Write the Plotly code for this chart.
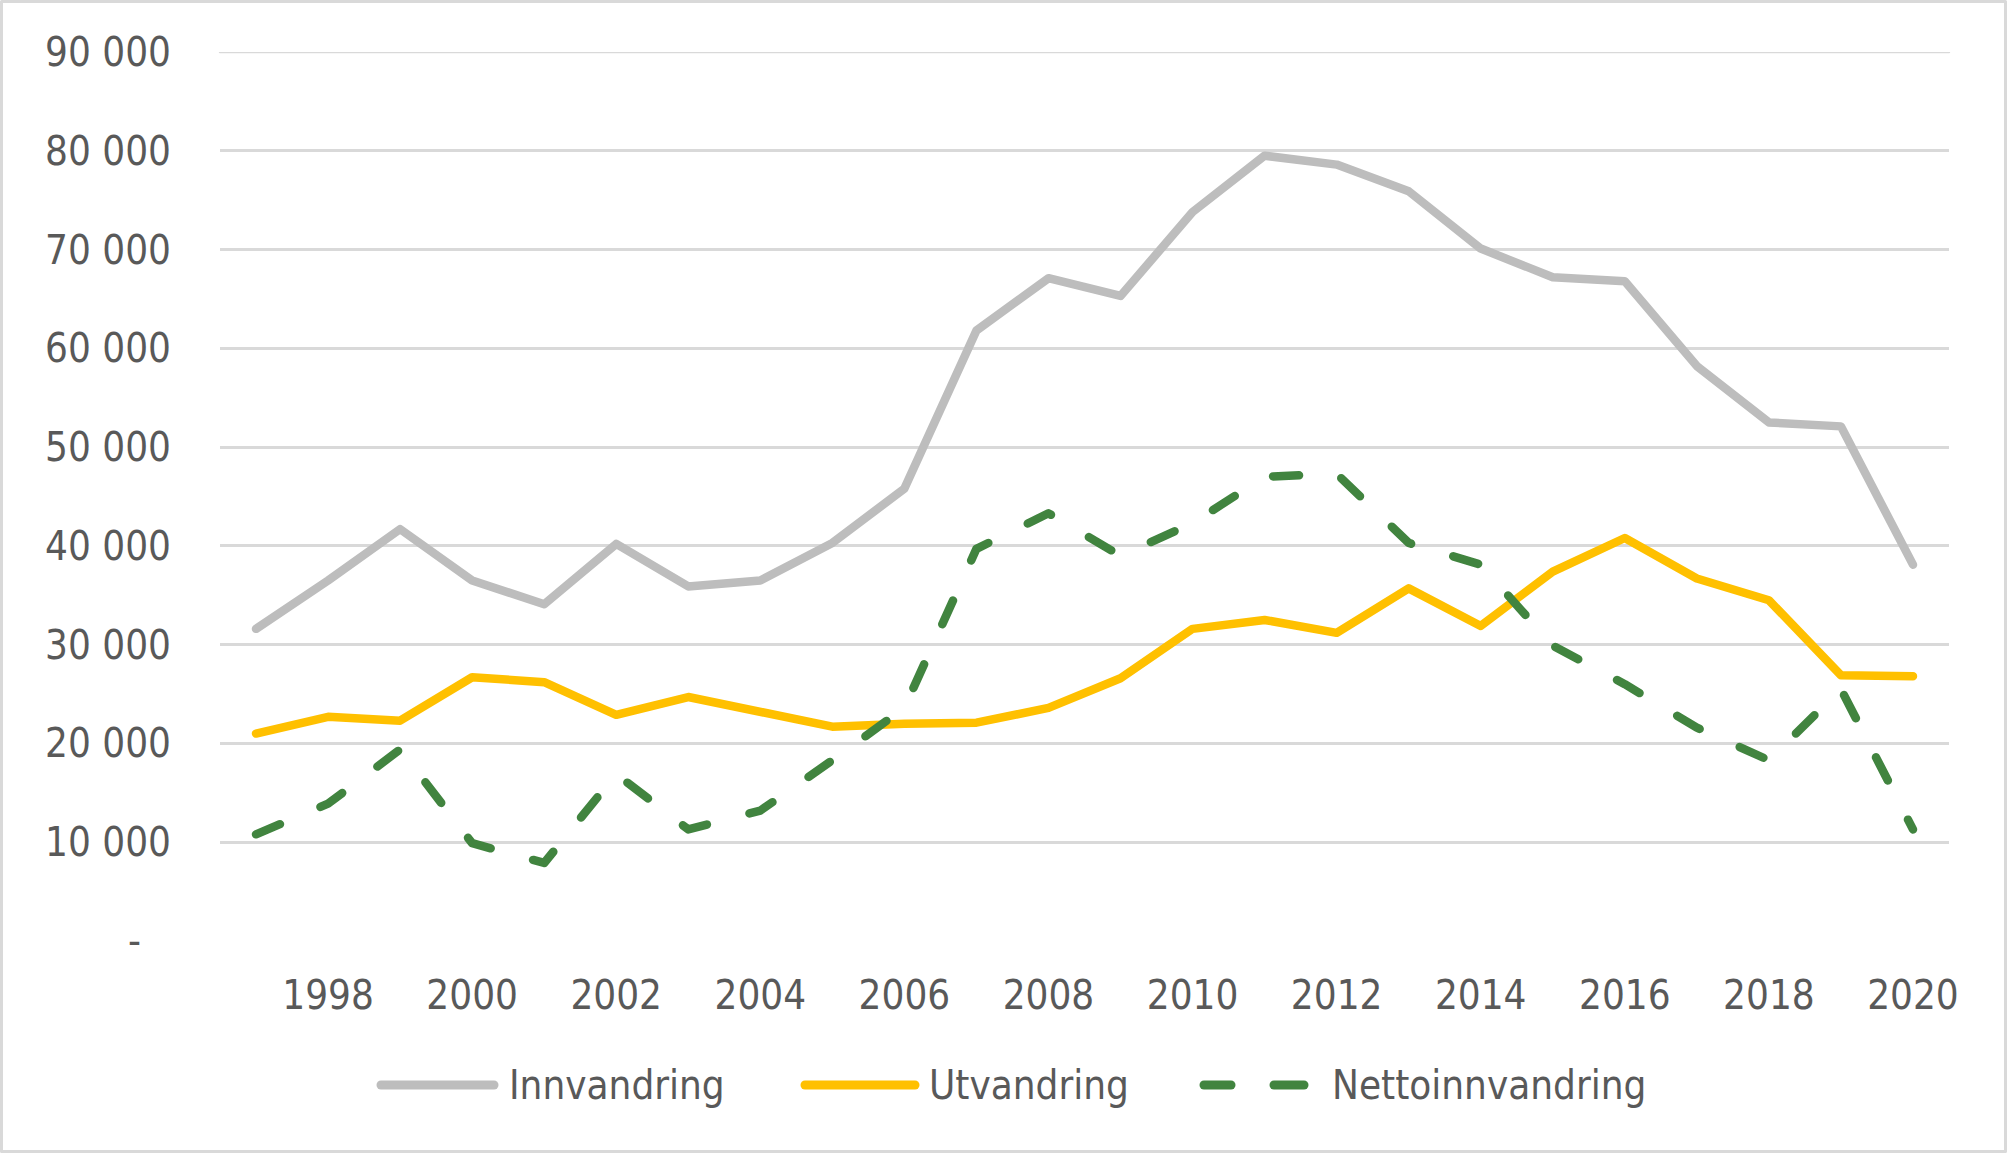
import plotly.graph_objects as go

# ---------------- data ----------------
years = list(range(1997, 2021))
innvandring = [31600, 36500, 41700, 36500, 34100, 40200, 35900, 36500, 40300, 45800,
               61800, 67100, 65300, 73800, 79500, 78600, 75900, 70100, 67200, 66800,
               58200, 52500, 52100, 38100]
utvandring = [21000, 22700, 22300, 26700, 26200, 22900, 24700, 23300, 21700, 22000,
              22100, 23600, 26600, 31600, 32500, 31200, 35700, 31900, 37400, 40800,
              36700, 34500, 26900, 26800]
nettoinnvandring = [10800, 13900, 19400, 9900, 7900, 16900, 11300, 13200, 18300, 23600,
                    39700, 43300, 39000, 42300, 47000, 47300, 40300, 38100, 29900, 26000,
                    21600, 18300, 25500, 11300]
series_names = ["Innvandring", "Utvandring", "Nettoinnvandring"]
y_tick_values = [0, 10000, 20000, 30000, 40000, 50000, 60000, 70000, 80000, 90000]
y_tick_labels = ["-\u00a0\u00a0\u2009", "10 000", "20 000", "30 000", "40 000", "50 000",
                 "60 000", "70 000", "80 000", "90 000"]
x_tick_years = [1998, 2000, 2002, 2004, 2006, 2008, 2010, 2012, 2014, 2016, 2018, 2020]

# ---------------- style ----------------
W, H = 2007, 1153
L, R, T, B = 220, 58, 52, 212
PW, PH = W - L - R, H - T - B
FONT = "DejaVu Sans Condensed, Tahoma, DejaVu Sans, sans-serif"
TXT = "#595959"
GRID = "#D9D9D9"
colors = ["#BDBDBD", "#FFC000", "#41843F"]
LW = 8.5


def px2x(px):
    return (px - L) / PW


def px2y(py):
    return (H - B - py) / PH


fig = go.Figure()
series_values = [innvandring, utvandring, nettoinnvandring]
for name, vals, col in zip(series_names, series_values, colors):
    line = dict(color=col, width=LW)
    if name == "Nettoinnvandring":
        line["dash"] = "26px,44px"
    fig.add_trace(go.Scatter(x=years, y=vals, mode="lines", name=name, line=line,
                             showlegend=False, hoverinfo="x+y"))

shapes = []
annotations = []

# top gridline (plotly omits the one at the range edge)
shapes.append(dict(type="line", xref="paper", yref="y", x0=0, x1=1,
                   y0=y_tick_values[-1], y1=y_tick_values[-1],
                   line=dict(color=GRID, width=2.5), layer="below"))

# custom legend (long line samples like the original)
leg_y = px2y(1085)
legend_items = [
    (series_names[0], colors[0], [(381, 494)], 507),
    (series_names[1], colors[1], [(805, 915)], 927),
    (series_names[2], colors[2], [(1204, 1231), (1274, 1304)], 1330),
]
for name, col, segs, tx in legend_items:
    for a, b in segs:
        shapes.append(dict(type="line", xref="paper", yref="paper",
                           x0=px2x(a), x1=px2x(b), y0=leg_y, y1=leg_y,
                           line=dict(color=col, width=9), layer="above"))
    annotations.append(dict(text=name, xref="paper", yref="paper", x=px2x(tx), y=leg_y,
                            xanchor="left", yanchor="middle", showarrow=False,
                            font=dict(family=FONT, size=40, color=TXT)))

# outer border of the chart
shapes.append(dict(type="rect", xref="paper", yref="paper",
                   x0=px2x(1.5), x1=px2x(W - 1.5), y0=px2y(H - 1.5), y1=px2y(1.5),
                   line=dict(color=GRID, width=3), fillcolor="rgba(0,0,0,0)", layer="below"))

fig.update_layout(
    width=W, height=H, autosize=False,
    margin=dict(l=L, r=R, t=T, b=B, pad=0),
    paper_bgcolor="white", plot_bgcolor="white",
    font=dict(family=FONT, size=40, color=TXT),
    showlegend=False,
    shapes=shapes, annotations=annotations,
    xaxis=dict(range=[1996.5, 2020.5], tickmode="array", tickvals=x_tick_years,
               ticktext=[str(y) for y in x_tick_years], showgrid=False, zeroline=False,
               showline=False, ticks="", ticklabelstandoff=27,
               tickfont=dict(family=FONT, size=40, color=TXT), fixedrange=True),
    yaxis=dict(range=[0, 90000], tickmode="array", tickvals=y_tick_values,
               ticktext=y_tick_labels, showgrid=True, gridcolor=GRID, gridwidth=2.5,
               zeroline=False, showline=False, ticks="", ticklabelstandoff=48,
               tickfont=dict(family=FONT, size=40, color=TXT), fixedrange=True),
)

post = """
var gd = document.getElementById('{plot_id}');
function rc(){
  gd.querySelectorAll('.scatterlayer .js-line, .shapelayer path').forEach(function(p){
    p.style.strokeLinecap = 'round'; p.style.strokeLinejoin = 'round';
  });
}
rc(); setTimeout(rc, 0); setTimeout(rc, 200);
if (gd.on) { gd.on('plotly_afterplot', rc); }
"""

fig.write_html("out.html", post_script=post, config={"displayModeBar": False})
